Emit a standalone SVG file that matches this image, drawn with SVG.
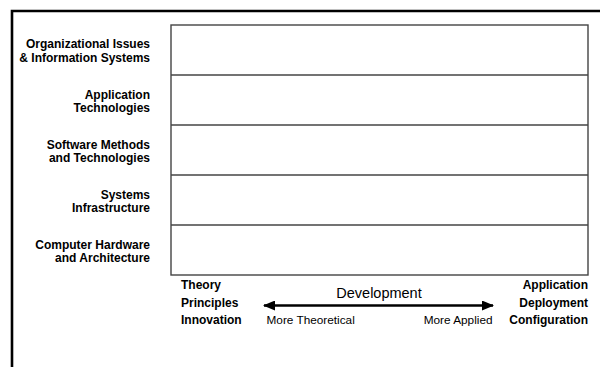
<svg xmlns="http://www.w3.org/2000/svg" width="600" height="367" viewBox="0 0 600 367">
<style>
.lbl{font-family:"Liberation Sans",Arial,sans-serif;font-size:12px;font-weight:bold;fill:#000}
.reg{font-family:"Liberation Sans",Arial,sans-serif;font-size:11.8px;fill:#000}
.grid{fill:none;stroke:#444;stroke-width:1.4}
</style>
<defs>
<marker id="ah" markerWidth="12" markerHeight="10" refX="11" refY="5" orient="auto-start-reverse" markerUnits="userSpaceOnUse">
<path d="M0,0 L12,5 L0,10 Z" fill="#000"/>
</marker>
</defs>
<rect width="600" height="367" fill="#fff"/>
<g id="frame">
<path d="M12,367 L12,11 L600,11" fill="none" stroke="#000" stroke-width="2.6"/>
</g>
<g id="grid">
<rect class="grid" x="171" y="25" width="417" height="250"/>
<line class="grid" x1="171" y1="75" x2="588" y2="75"/>
<line class="grid" x1="171" y1="125" x2="588" y2="125"/>
<line class="grid" x1="171" y1="175" x2="588" y2="175"/>
<line class="grid" x1="171" y1="225" x2="588" y2="225"/>
</g>
<g id="row1"><text class="lbl" x="150" y="48" text-anchor="end">Organizational Issues</text><text class="lbl" x="150" y="61.5" text-anchor="end">&amp; Information Systems</text></g>
<g id="row2"><text class="lbl" x="150" y="99" text-anchor="end">Application</text><text class="lbl" x="150" y="112" text-anchor="end">Technologies</text></g>
<g id="row3"><text class="lbl" x="150" y="149" text-anchor="end">Software Methods</text><text class="lbl" x="150" y="162" text-anchor="end">and Technologies</text></g>
<g id="row4"><text class="lbl" x="150" y="199" text-anchor="end">Systems</text><text class="lbl" x="150" y="212" text-anchor="end">Infrastructure</text></g>
<g id="row5"><text class="lbl" x="150" y="249" text-anchor="end">Computer Hardware</text><text class="lbl" x="150" y="262" text-anchor="end">and Architecture</text></g>
<g id="left-end"><text class="lbl" x="181" y="289">Theory</text><text class="lbl" x="181" y="306.5">Principles</text><text class="lbl" x="181" y="324">Innovation</text></g>
<g id="right-end"><text class="lbl" x="588" y="289" text-anchor="end">Application</text><text class="lbl" x="588" y="306.5" text-anchor="end">Deployment</text><text class="lbl" x="588" y="324" text-anchor="end">Configuration</text></g>
<g id="connectors">
<line x1="264" y1="305.5" x2="493" y2="305.5" stroke="#000" stroke-width="2.6" marker-start="url(#ah)" marker-end="url(#ah)"/>
</g>
<g id="axis-labels">
<text class="reg" x="379" y="298" text-anchor="middle" style="font-size:14.5px">Development</text>
<text class="reg" x="266.5" y="324">More Theoretical</text>
<text class="reg" x="492.5" y="324" text-anchor="end">More Applied</text>
</g>
</svg>
